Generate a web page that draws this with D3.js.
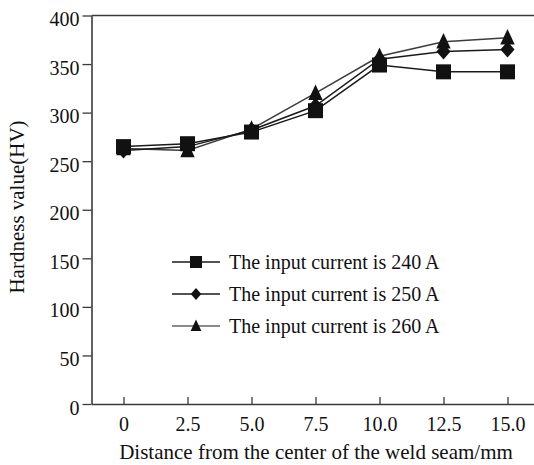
<!DOCTYPE html>
<html>
<head>
<meta charset="utf-8">
<script src="https://cdn.jsdelivr.net/npm/d3@7"></script>
<style>
  body { margin: 0; background: #fff; }
  svg { display: block; font-family: "Liberation Serif", "Times New Roman", serif; }
</style>
</head>
<body>
<svg class="chart"></svg>
<script>
let width = 534, height = 465;

// data
let distance = [0, 2.5, 5.0, 7.5, 10.0, 12.5, 15.0];
let xTickLabels = ['0', '2.5', '5.0', '7.5', '10.0', '12.5', '15.0'];
let yTicks = [0, 50, 100, 150, 200, 250, 300, 350, 400];
let current240 = [265, 268, 280, 302, 349, 342, 342];
let current250 = [261, 265, 282, 307, 355, 363, 365];
let current260 = [263, 261, 283, 320, 358, 373, 377];
let seriesNames = ['The input current is 240 A', 'The input current is 250 A', 'The input current is 260 A'];

let x = d3.scaleLinear()
    .domain( [-1.25, 16.25] )
    .range( [91.5, 539.5] );

let y = d3.scaleLinear()
    .domain( [0, 400] )
    .range( [404, 15.5] );

let chart = d3.select( '.chart' )
    .attr( 'width', width )
    .attr( 'height', height );

let axisColor = '#3a3a3a';
let fontSize = '20px';

// marker shapes
let shapes = {
  square: s => 'M' + (-s/2) + ',' + (-s/2) + 'h' + s + 'v' + s + 'h' + (-s) + 'Z',
  diamond: s => 'M0,' + (-s/2) + 'L' + (s*0.44) + ',0L0,' + (s/2) + 'L' + (-s*0.44) + ',0Z',
  triangle: s => 'M0,' + (-s*0.55) + 'L' + (s*0.45) + ',' + (s*0.42) + 'L' + (-s*0.45) + ',' + (s*0.42) + 'Z'
};

// drawn in this order, squares end up on top
let series = [
  { name: seriesNames[2], values: current260, shape: 'triangle', line: '#3c3c3c', legendLine: '#8a8a8a', size: 16 },
  { name: seriesNames[1], values: current250, shape: 'diamond', line: '#1a1a1a', legendLine: '#1a1a1a', size: 16 },
  { name: seriesNames[0], values: current240, shape: 'square', line: '#1a1a1a', legendLine: '#1a1a1a', size: 15 }
];

// top frame line
chart.append( 'line' )
    .attr( 'x1', x.range()[0] ).attr( 'x2', x.range()[1] )
    .attr( 'y1', y(400) ).attr( 'y2', y(400) )
    .attr( 'stroke', axisColor )
    .attr( 'stroke-width', 1.6 );

let xAxis = d3.axisBottom(x)
    .tickValues( distance )
    .tickFormat( (d, i) => xTickLabels[i] )
    .tickSizeInner( -7 )
    .tickSizeOuter( 0 )
    .tickPadding( 19 );

let yAxis = d3.axisLeft(y)
    .tickValues( yTicks )
    .tickSizeInner( 9 )
    .tickSizeOuter( 0 )
    .tickPadding( 3 );

let gx = chart.append( 'g' )
    .attr( 'transform', 'translate(0,' + y(0) + ')' )
    .call( xAxis );

let gy = chart.append( 'g' )
    .attr( 'transform', 'translate(' + x.range()[0] + ',0)' )
    .call( yAxis );

[gx, gy].forEach( g => {
  g.select( '.domain' ).attr( 'stroke', axisColor ).attr( 'stroke-width', 1.6 );
  g.selectAll( '.tick line' ).attr( 'stroke', axisColor ).attr( 'stroke-width', 1.3 );
  g.selectAll( 'text' )
      .attr( 'fill', '#111' )
      .style( 'font-size', fontSize )
      .style( 'font-family', '"Liberation Serif", serif' );
});
gy.selectAll( 'text' ).attr( 'dy', '0.5em' ).attr( 'x', -12 );
gx.selectAll( 'text' ).attr( 'dy', '0.4em' );

chart.append( 'text' )
    .attr( 'x', 316 )
    .attr( 'y', 459 )
    .attr( 'text-anchor', 'middle' )
    .style( 'font-size', '21px' )
    .attr( 'fill', '#111' )
    .text( 'Distance from the center of the weld seam/mm' );

chart.append( 'text' )
    .attr( 'transform', 'translate(24,207) rotate(-90)' )
    .attr( 'text-anchor', 'middle' )
    .style( 'font-size', '21px' )
    .attr( 'fill', '#111' )
    .text( 'Hardness value(HV)' );

let line = d3.line()
    .x( (d, i) => x( distance[i] ) )
    .y( d => y(d) );

series.forEach( s => {
  chart.append( 'path' )
      .datum( s.values )
      .attr( 'fill', 'none' )
      .attr( 'stroke', s.line )
      .attr( 'stroke-width', 1.5 )
      .attr( 'd', line );
});

series.forEach( s => {
  chart.append( 'g' ).selectAll( 'path' )
      .data( s.values )
    .enter().append( 'path' )
      .attr( 'transform', (d, i) => 'translate(' + x( distance[i] ) + ',' + y(d) + ')' )
      .attr( 'd', shapes[s.shape]( s.size ) )
      .attr( 'fill', '#111' );
});

// legend: 240 A on top, 260 A at the bottom
let legend = chart.append( 'g' );
series.slice().reverse().forEach( (s, i) => {
  let ly = 262 + i * 32;
  let g = legend.append( 'g' ).attr( 'transform', 'translate(0,' + ly + ')' );
  g.append( 'line' )
      .attr( 'x1', 172 ).attr( 'x2', 220 )
      .attr( 'stroke', s.legendLine )
      .attr( 'stroke-width', s.shape === 'triangle' ? 2 : 1.5 );
  g.append( 'path' )
      .attr( 'transform', 'translate(196,0)' )
      .attr( 'd', shapes[s.shape]( 12 ) )
      .attr( 'fill', '#111' );
  g.append( 'text' )
      .attr( 'x', 229 )
      .attr( 'dy', '0.35em' )
      .style( 'font-size', fontSize )
      .attr( 'fill', '#111' )
      .text( s.name );
});
</script>
</body>
</html>
